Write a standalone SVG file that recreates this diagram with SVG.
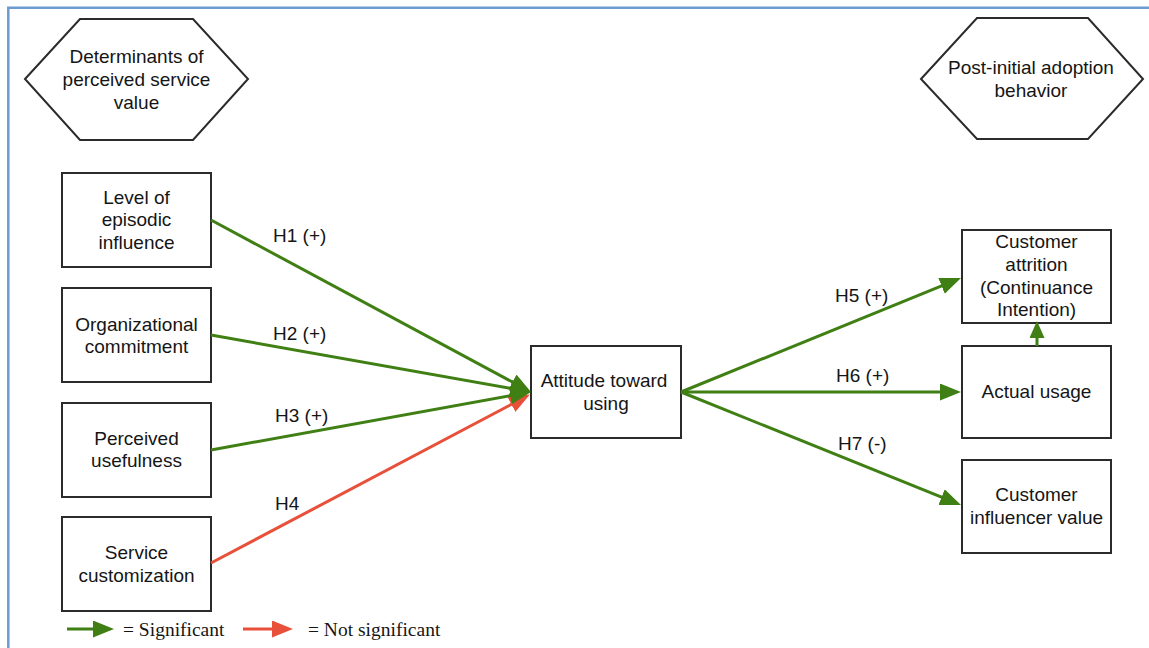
<svg xmlns="http://www.w3.org/2000/svg" width="1149" height="648" viewBox="0 0 1149 648">
  <style>
    .frame { fill: none; stroke: #6b9bd1; stroke-width: 2.5; }
    .shape { fill: #ffffff; stroke: #2b2b2b; stroke-width: 2; }
    .lbl { font-family: "Liberation Sans", Arial, sans-serif; font-size: 19px; fill: #151515; text-anchor: middle; }
    .hyp { font-family: "Liberation Sans", Arial, sans-serif; font-size: 19px; fill: #151515; }
    .leg { font-family: "Liberation Serif", "Times New Roman", serif; font-size: 19.5px; fill: #151515; }
    .sig { fill: none; stroke: #3f7f14; stroke-width: 3; }
    .ns { fill: none; stroke: #e8503a; stroke-width: 3; }
  </style>
  <defs>
    <marker id="headG" markerUnits="userSpaceOnUse" markerWidth="21" markerHeight="17" refX="10" refY="8.5" orient="auto">
      <path d="M0,0 L21,8.5 L0,17 z" fill="#3f7f14"/>
    </marker>
    <marker id="headR" markerUnits="userSpaceOnUse" markerWidth="21" markerHeight="17" refX="10" refY="8.5" orient="auto">
      <path d="M0,0 L21,8.5 L0,17 z" fill="#e8503a"/>
    </marker>
    <marker id="headGs" markerUnits="userSpaceOnUse" markerWidth="17" markerHeight="15" refX="7" refY="7.5" orient="auto">
      <path d="M0,0 L17,7.5 L0,15 z" fill="#3f7f14"/>
    </marker>
  </defs>

  <rect width="1149" height="648" fill="#ffffff"/>
  <path class="frame" d="M8.3,648 V7.7 H1149"/>

  <!-- section headers -->
  <g id="hdr-determinants">
    <polygon class="shape" points="25,79 80,19 193,19 248,79 193,140 80,140"/>
    <text class="lbl" x="136.5" y="63">Determinants of</text>
    <text class="lbl" x="136.5" y="86">perceived service</text>
    <text class="lbl" x="136.5" y="109">value</text>
  </g>
  <g id="hdr-post-adoption">
    <polygon class="shape" points="921,79 977,18 1088,18 1143,79 1088,139 977,139"/>
    <text class="lbl" x="1031" y="74">Post-initial adoption</text>
    <text class="lbl" x="1031" y="97">behavior</text>
  </g>

  <!-- antecedents -->
  <g id="n-episodic">
    <rect class="shape" x="62" y="173" width="149" height="94"/>
    <text class="lbl" x="136.5" y="203.5">Level of</text>
    <text class="lbl" x="136.5" y="226">episodic</text>
    <text class="lbl" x="136.5" y="248.5">influence</text>
  </g>
  <g id="n-commitment">
    <rect class="shape" x="62" y="288" width="149" height="94"/>
    <text class="lbl" x="136.5" y="331">Organizational</text>
    <text class="lbl" x="136.5" y="353">commitment</text>
  </g>
  <g id="n-usefulness">
    <rect class="shape" x="62" y="403" width="149" height="94"/>
    <text class="lbl" x="136.5" y="445">Perceived</text>
    <text class="lbl" x="136.5" y="467">usefulness</text>
  </g>
  <g id="n-customization">
    <rect class="shape" x="62" y="517" width="149" height="94"/>
    <text class="lbl" x="136.5" y="559">Service</text>
    <text class="lbl" x="136.5" y="582">customization</text>
  </g>

  <!-- mediator -->
  <g id="n-attitude">
    <rect class="shape" x="531" y="346" width="150" height="92"/>
    <text class="lbl" x="604" y="387">Attitude toward</text>
    <text class="lbl" x="606" y="409.5">using</text>
  </g>

  <!-- outcomes -->
  <g id="n-attrition">
    <rect class="shape" x="962" y="230" width="149" height="93"/>
    <text class="lbl" x="1036.5" y="248">Customer</text>
    <text class="lbl" x="1036.5" y="271">attrition</text>
    <text class="lbl" x="1036.5" y="294">(Continuance</text>
    <text class="lbl" x="1036.5" y="316">Intention)</text>
  </g>
  <g id="n-usage">
    <rect class="shape" x="962" y="346" width="149" height="92"/>
    <text class="lbl" x="1036.5" y="398">Actual usage</text>
  </g>
  <g id="n-influencer">
    <rect class="shape" x="962" y="460" width="149" height="93"/>
    <text class="lbl" x="1036.5" y="501">Customer</text>
    <text class="lbl" x="1036.5" y="524">influencer value</text>
  </g>

  <!-- hypothesised paths -->
  <g id="connectors">
    <line class="ns" x1="211" y1="563" x2="520.2" y2="399.7" marker-end="url(#headR)"/>
    <line class="sig" x1="211" y1="220" x2="521.3" y2="386.8" marker-end="url(#headG)"/>
    <line class="sig" x1="211" y1="335" x2="520.2" y2="390.0" marker-end="url(#headG)"/>
    <line class="sig" x1="211" y1="450" x2="520.2" y2="394.0" marker-end="url(#headG)"/>
    <line class="sig" x1="681" y1="392" x2="950.8" y2="282.2" marker-end="url(#headG)"/>
    <line class="sig" x1="681" y1="392" x2="950" y2="392" marker-end="url(#headG)"/>
    <line class="sig" x1="681" y1="392" x2="950.8" y2="500.9" marker-end="url(#headG)"/>
    <line class="sig" x1="1037" y1="346" x2="1037" y2="331" marker-end="url(#headGs)"/>

    <text class="hyp" x="273" y="242">H1 (+)</text>
    <text class="hyp" x="273" y="340">H2 (+)</text>
    <text class="hyp" x="275" y="422">H3 (+)</text>
    <text class="hyp" x="275" y="510">H4</text>
    <text class="hyp" x="835" y="302">H5 (+)</text>
    <text class="hyp" x="836" y="382">H6 (+)</text>
    <text class="hyp" x="838" y="450">H7 (-)</text>
  </g>

  <!-- legend -->
  <g id="legend">
    <line class="sig" x1="67" y1="629" x2="103" y2="629" marker-end="url(#headG)"/>
    <text class="leg" x="123" y="636">= Significant</text>
    <line class="ns" x1="243" y1="629" x2="282" y2="629" marker-end="url(#headR)"/>
    <text class="leg" x="308" y="636">= Not significant</text>
  </g>
</svg>
